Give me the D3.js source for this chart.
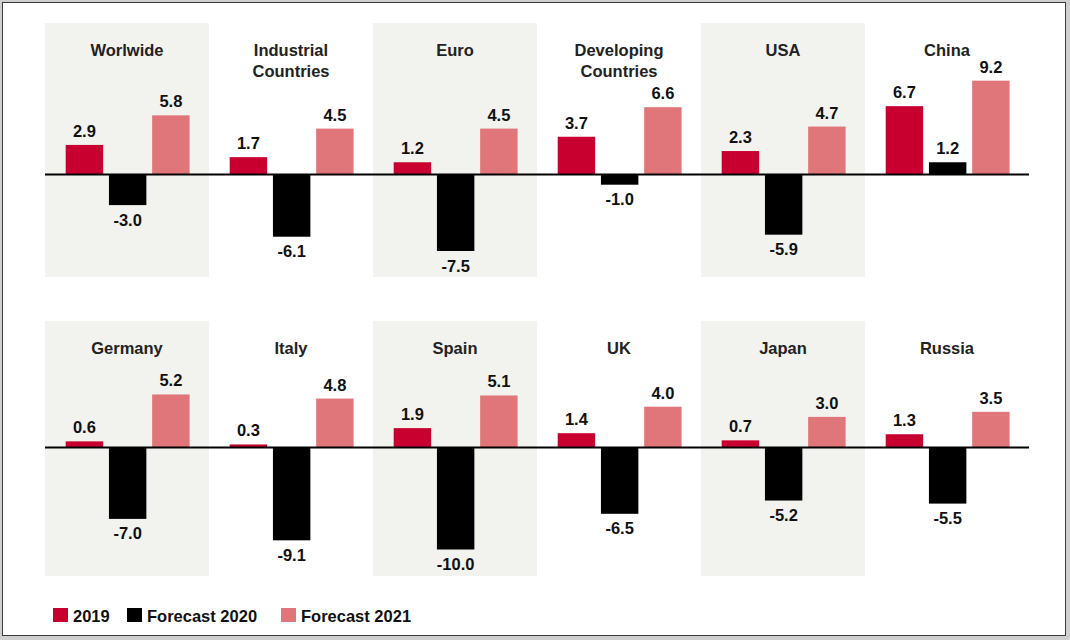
<!DOCTYPE html>
<html>
<head>
<meta charset="utf-8">
<script src="https://cdn.jsdelivr.net/npm/d3@7"></script>
<style>
  html, body { margin: 0; padding: 0; background: #fff; }
  svg { display: block; font-family: "Liberation Sans", Arial, sans-serif; }
</style>
</head>
<body>
<svg id="chart" width="1070" height="640"></svg>
<script>
// ---- data ----
const regionsRow1 = [["Worlwide"], ["Industrial", "Countries"], ["Euro"], ["Developing", "Countries"], ["USA"], ["China"]];
const regionsRow2 = [["Germany"], ["Italy"], ["Spain"], ["UK"], ["Japan"], ["Russia"]];
const series = ["2019", "Forecast 2020", "Forecast 2021"];
const values2019     = [2.9, 1.7, 1.2, 3.7, 2.3, 6.7, 0.6, 0.3, 1.9, 1.4, 0.7, 1.3];
const valuesF2020    = [-3.0, -6.1, -7.5, -1.0, -5.9, 1.2, -7.0, -9.1, -10.0, -6.5, -5.2, -5.5];
const valuesF2021    = [5.8, 4.5, 4.5, 6.6, 4.7, 9.2, 5.2, 4.8, 5.1, 4.0, 3.0, 3.5];

const colors = ["#c8002f", "#000000", "#e0767a"];

const svg = d3.select("#chart");

// frame
svg.append("rect").attr("x", 0).attr("y", 0).attr("width", 1070).attr("height", 640).attr("fill", "#cfcfcf");
svg.append("rect").attr("x", 2.5).attr("y", 2.5).attr("width", 1063).attr("height", 633)
  .attr("fill", "#fff").attr("stroke", "#3a3a3a").attr("stroke-width", 1);

const rows = [
  { names: regionsRow1, top: 23, bottom: 277, zero: 174.5, offset: 0 },
  { names: regionsRow2, top: 321, bottom: 576, zero: 447.5, offset: 6 }
];

const x = d3.scaleBand().domain(d3.range(6)).range([45, 1029]).padding(0);
const xs = d3.scaleBand().domain(series).range([20.7, 144.6]).paddingInner(0.134).paddingOuter(0);

const allSeries = [values2019, valuesF2020, valuesF2021];
const FS = 16.5;

rows.forEach(row => {
  const y = d3.scaleLinear().domain([-10, 10]).range([row.zero + 102, row.zero - 102]);
  const g = svg.append("g");

  // shaded panels
  g.selectAll("rect.panel").data([0, 2, 4]).enter().append("rect")
    .attr("class", "panel")
    .attr("x", d => x(d)).attr("y", row.top)
    .attr("width", x.bandwidth()).attr("height", row.bottom - row.top)
    .attr("fill", "#f2f2ef");

  row.names.forEach((lines, i) => {
    const idx = row.offset + i;
    const pg = g.append("g").attr("transform", `translate(${x(i)},0)`);

    // title
    const t = pg.append("text")
      .attr("x", x.bandwidth() / 2).attr("y", row.top + 33)
      .attr("text-anchor", "middle")
      .attr("font-size", FS).attr("font-weight", "bold").attr("fill", "#222");
    lines.forEach((l, li) => {
      t.append("tspan").attr("x", x.bandwidth() / 2).attr("dy", li === 0 ? 0 : 21).text(l);
    });

    const data = series.map((s, si) => ({ s, v: allSeries[si][idx], c: colors[si] }));

    pg.selectAll("rect.bar").data(data).enter().append("rect")
      .attr("class", "bar")
      .attr("x", d => xs(d.s))
      .attr("width", xs.bandwidth())
      .attr("y", d => Math.min(y(d.v), y(0)))
      .attr("height", d => Math.abs(y(d.v) - y(0)))
      .attr("fill", d => d.c);

    pg.selectAll("text.val").data(data).enter().append("text")
      .attr("class", "val")
      .attr("x", d => xs(d.s) + xs.bandwidth() / 2)
      .attr("y", d => d.v >= 0 ? y(d.v) - 8 : y(d.v) + 20.5)
      .attr("text-anchor", "middle")
      .attr("font-size", FS).attr("font-weight", "bold").attr("fill", "#111")
      .text(d => d.v.toFixed(1));
  });

  // zero line
  g.append("line")
    .attr("x1", 45).attr("x2", 1029)
    .attr("y1", y(0)).attr("y2", y(0))
    .attr("stroke", "#000").attr("stroke-width", 2);
});

// legend
const legendX = [53, 127, 281];
const lg = svg.append("g");
series.forEach((s, i) => {
  lg.append("rect").attr("x", legendX[i]).attr("y", 608).attr("width", 15).attr("height", 14).attr("fill", colors[i]);
  lg.append("text").attr("x", legendX[i] + 20).attr("y", 621.5)
    .attr("font-size", FS).attr("font-weight", "bold").attr("fill", "#111").text(s);
});
</script>
</body>
</html>
